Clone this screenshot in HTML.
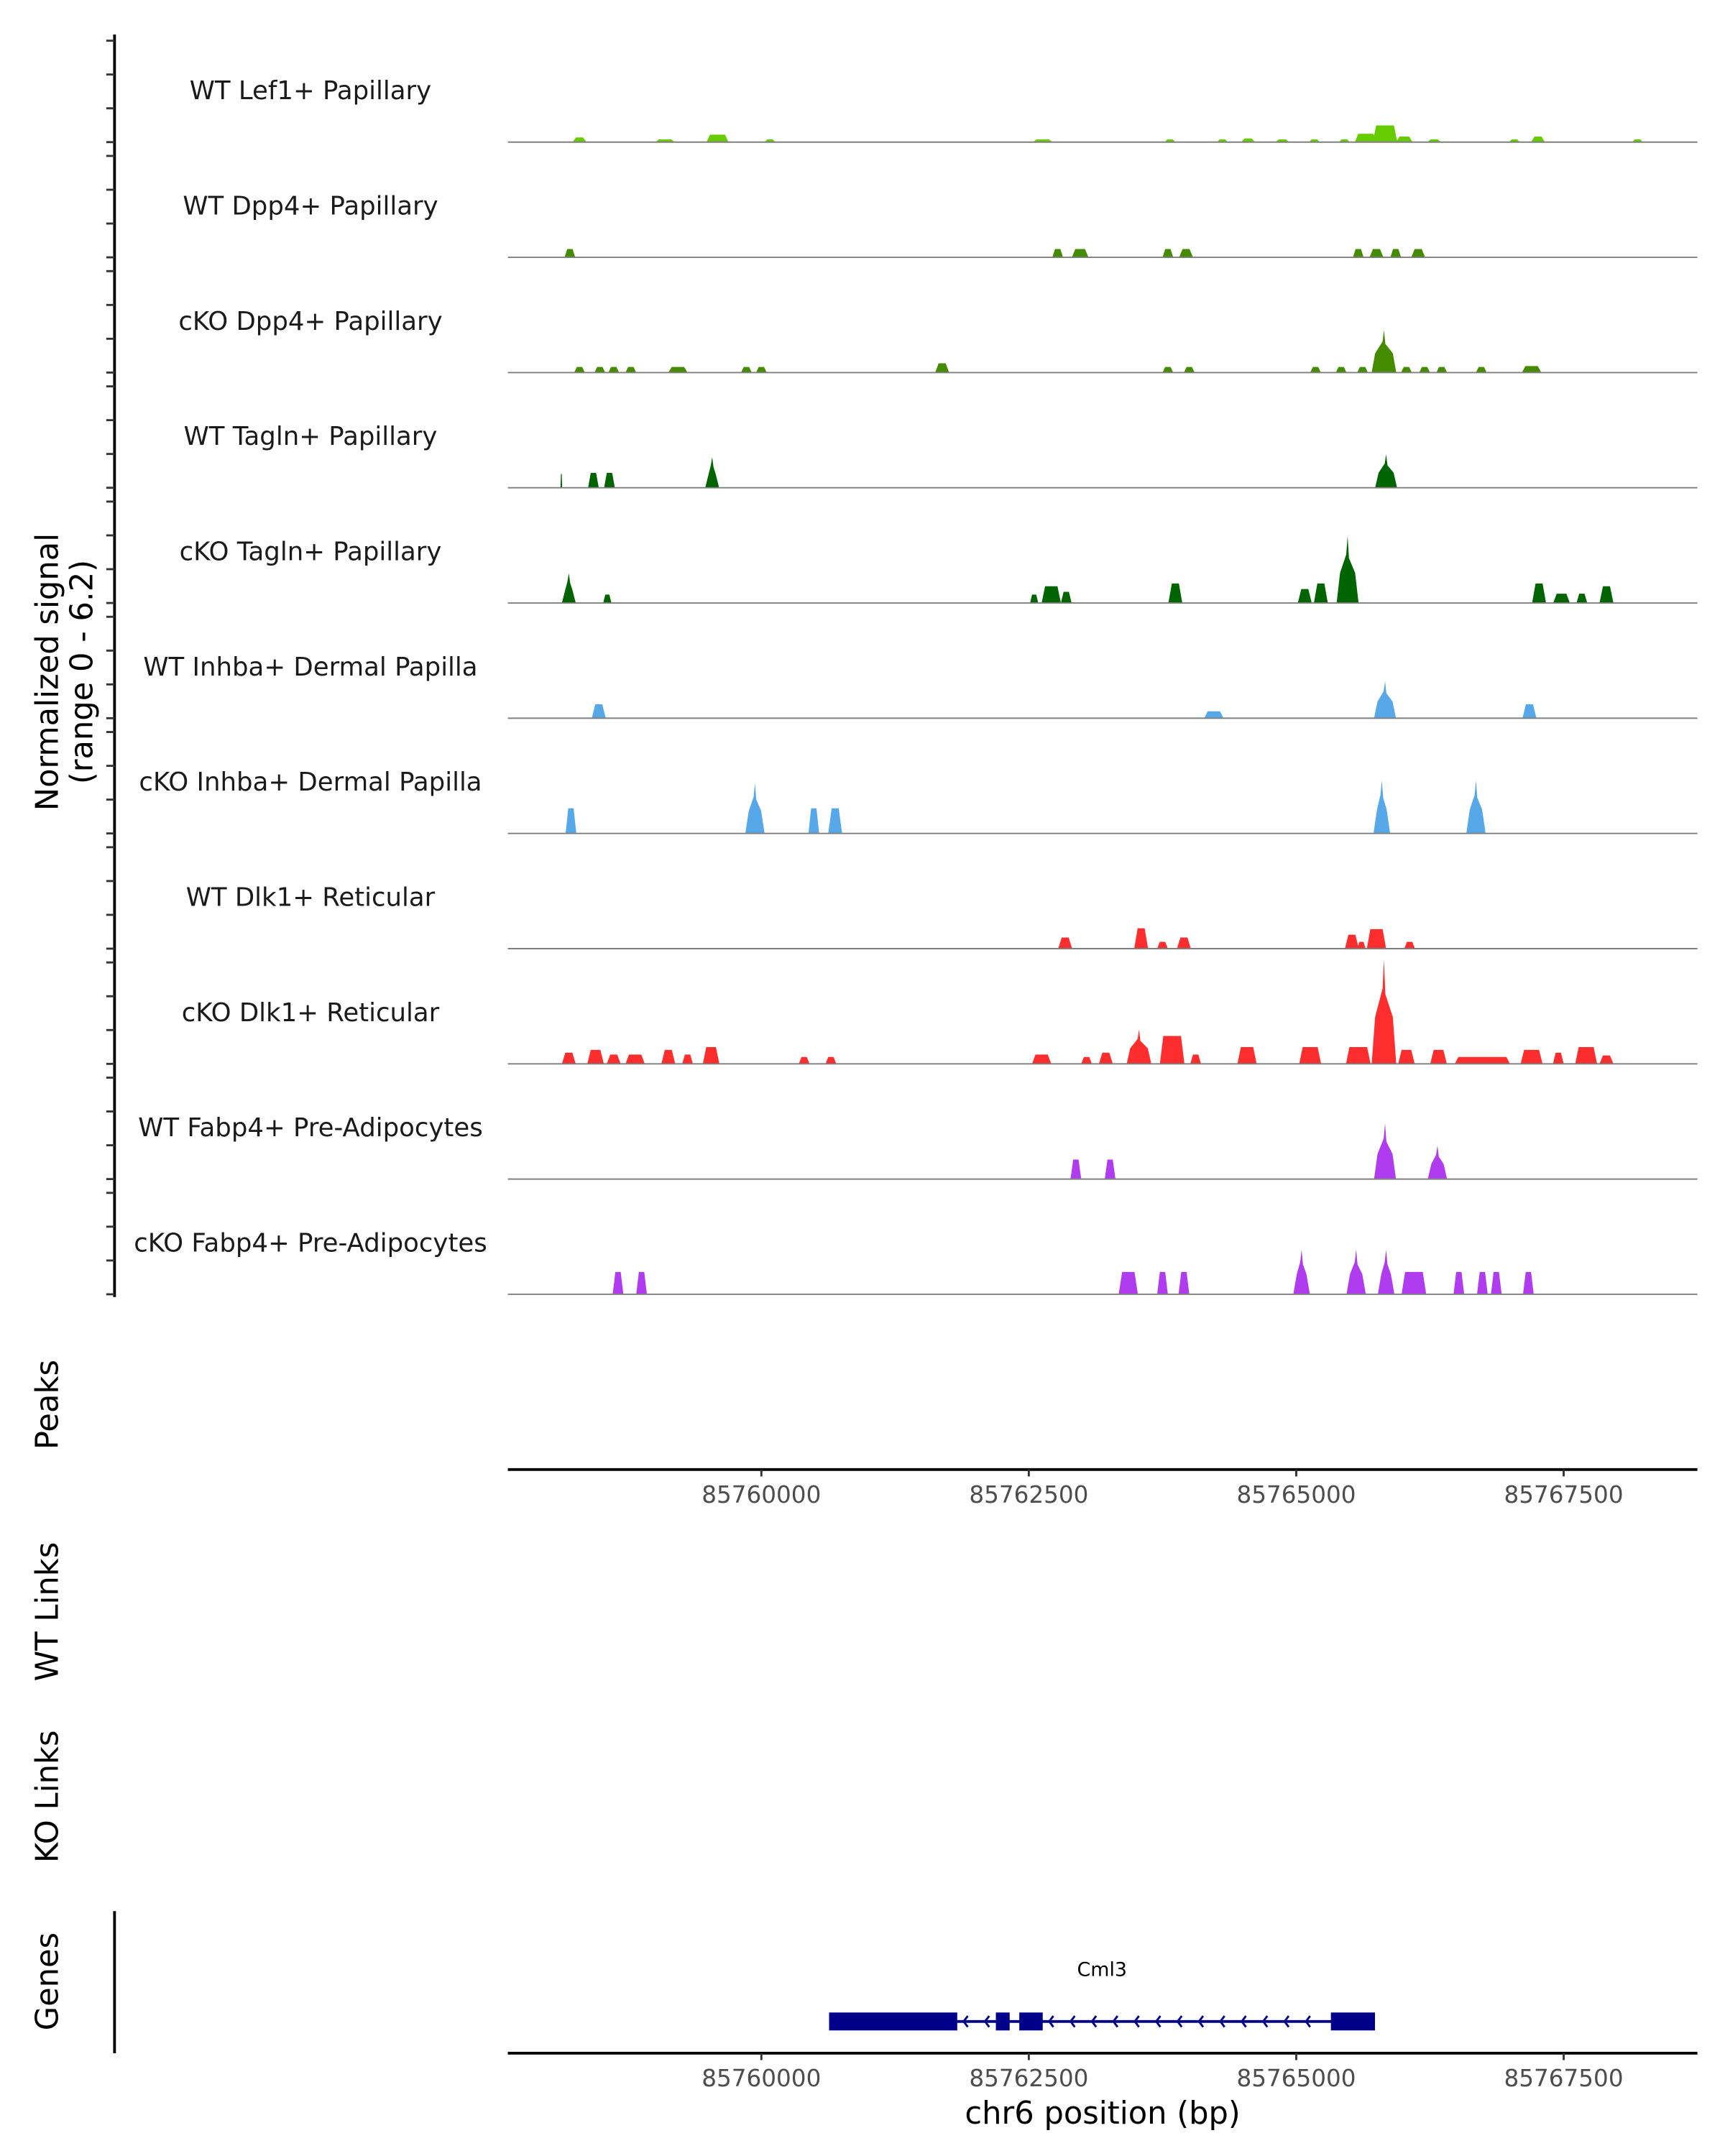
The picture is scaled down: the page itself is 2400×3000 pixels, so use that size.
<!DOCTYPE html>
<html><head><meta charset="utf-8"><title>Coverage plot chr6</title>
<style>html,body{margin:0;padding:0;background:#fff}svg{display:block}text{font-family:"DejaVu Sans","Liberation Sans",sans-serif}</style>
</head><body>
<svg id="chart" width="2400" height="3000" viewBox="0 0 1250 1562.5" xmlns="http://www.w3.org/2000/svg">
<rect width="1250" height="1562.5" fill="#fff"/>
<g id="tracks"></g>
<line x1="83" y1="25" x2="83" y2="940" stroke="#000" stroke-width="2"/>
<g id="yticks"></g>
<text transform="translate(42,487) rotate(-90)" text-anchor="middle" font-size="22.5">Normalized signal</text>
<text transform="translate(67,487) rotate(-90)" text-anchor="middle" font-size="22.5">(range 0 - 6.2)</text>
<text transform="translate(42,1018) rotate(-90)" text-anchor="middle" font-size="22.5">Peaks</text>
<line x1="368" y1="1065" x2="1230" y2="1065" stroke="#000" stroke-width="2"/>
<g id="xticks1"></g>
<text transform="translate(42,1168) rotate(-90)" text-anchor="middle" font-size="22.5">WT Links</text>
<text transform="translate(42,1302) rotate(-90)" text-anchor="middle" font-size="22.5">KO Links</text>
<text transform="translate(42,1436) rotate(-90)" text-anchor="middle" font-size="22.5">Genes</text>
<line x1="83" y1="1385" x2="83" y2="1488" stroke="#000" stroke-width="2"/>
<g id="gene"></g>
<line x1="368" y1="1488" x2="1230" y2="1488" stroke="#000" stroke-width="2"/>
<g id="xticks2"></g>
<text x="799" y="1539" text-anchor="middle" font-size="22.5">chr6 position (bp)</text>
</svg>
<script>
// region and ticks
const regionStart = 85757630;
const regionEnd = 85768750;
const xTickValues = [85760000, 85762500, 85765000, 85767500];
const yMax = 6.2;
const trackNames = ["WT Lef1+ Papillary","WT Dpp4+ Papillary","cKO Dpp4+ Papillary","WT Tagln+ Papillary","cKO Tagln+ Papillary","WT Inhba+ Dermal Papilla","cKO Inhba+ Dermal Papilla","WT Dlk1+ Reticular","cKO Dlk1+ Reticular","WT Fabp4+ Pre-Adipocytes","cKO Fabp4+ Pre-Adipocytes"];
const trackColors = ["#66cc00","#458b00","#458b00","#006400","#006400","#56a8e8","#56a8e8","#ff2e2e","#ff2e2e","#b03cf0","#b03cf0"];
// peak centers (kb), widths (bp), heights (normalized)
const pos1 = [85758.30,85759.10,85759.59,85760.08,85762.63,85763.82,85764.31,85764.55,85764.87,85765.17,85765.45,85765.65,85765.83,85766.01,85766.29,85767.04,85767.26,85768.19];
const wid1 = [130,180,205,100,180,100,100,130,130,100,100,205,230,155,130,100,130,100];
const hgt1 = [0.25,0.15,0.4,0.15,0.15,0.15,0.15,0.2,0.15,0.15,0.15,0.45,0.9,0.3,0.15,0.15,0.3,0.15];
const pos2 = [85758.21,85762.77,85762.98,85763.80,85763.97,85765.58,85765.75,85765.93,85766.14];
const wid2 = [100,100,155,100,130,100,130,100,130];
const hgt2 = [0.45,0.45,0.45,0.45,0.45,0.45,0.45,0.45,0.45];
const pos3 = [85758.30,85758.49,85758.62,85758.78,85759.22,85759.86,85760.00,85761.69,85763.80,85764.00,85765.18,85765.42,85765.62,85765.82,85766.03,85766.20,85766.36,85766.73,85767.20];
const wid3 = [100,100,100,100,180,100,100,130,100,100,100,100,100,230,100,100,100,100,180];
const hgt3 = [0.3,0.3,0.3,0.3,0.3,0.3,0.3,0.5,0.3,0.3,0.3,0.3,0.3,2.3,0.3,0.3,0.3,0.3,0.35];
const pos4 = [85758.13,85758.43,85758.58,85759.54,85765.84];
const wid4 = [15,100,100,130,205];
const hgt4 = [0.75,0.8,0.8,1.65,1.8];
const pos5 = [85758.20,85758.56,85762.55,85762.71,85762.85,85763.87,85765.08,85765.23,85765.48,85767.27,85767.48,85767.67,85767.90];
const wid5 = [130,77,77,180,100,130,130,130,205,130,155,100,130];
const hgt5 = [1.6,0.45,0.45,0.9,0.6,1.05,0.75,1.05,3.6,1.05,0.5,0.5,0.9];
const pos6 = [85758.48,85764.23,85765.83,85767.18];
const wid6 = [130,180,205,130];
const hgt6 = [0.75,0.37,2.0,0.75];
const pos7 = [85758.22,85759.94,85760.49,85760.69,85765.80,85766.68];
const wid7 = [100,180,100,130,155,180];
const hgt7 = [1.35,2.7,1.35,1.35,2.85,2.85];
const pos8 = [85762.84,85763.55,85763.75,85763.95,85765.52,85765.61,85765.75,85766.06];
const wid8 = [130,130,100,130,130,77,180,100];
const hgt8 = [0.6,1.1,0.37,0.6,0.75,0.37,1.05,0.37];
const pos9 = [85758.20,85758.45,85758.62,85758.82,85759.13,85759.31,85759.53,85760.40,85760.65,85762.62,85763.04,85763.22,85763.53,85763.84,85764.06,85764.54,85765.13,85765.58,85765.82,85766.03,85766.33,85766.74,85767.20,85767.45,85767.71,85767.90];
const wid9 = [130,155,130,180,130,100,155,100,100,180,100,130,230,230,100,180,205,230,230,155,155,515,205,100,205,130];
const hgt9 = [0.6,0.75,0.5,0.5,0.75,0.5,0.9,0.37,0.37,0.5,0.37,0.6,1.85,1.5,0.5,0.9,0.9,0.9,5.6,0.75,0.75,0.37,0.75,0.6,0.9,0.45];
const pos10 = [85762.94,85763.26,85765.83,85766.32];
const wid10 = [100,100,205,180];
const hgt10 = [1.05,1.05,3.0,1.8];
const pos11 = [85758.66,85758.88,85763.43,85763.75,85763.95,85765.05,85765.56,85765.84,85766.10,85766.52,85766.74,85766.87,85767.17];
const wid11 = [100,100,180,100,100,155,180,155,230,100,100,100,100];
const hgt11 = [1.2,1.2,1.2,1.2,1.2,2.4,2.4,2.4,1.2,1.2,1.2,1.2,1.2];
const trackPos = [pos1,pos2,pos3,pos4,pos5,pos6,pos7,pos8,pos9,pos10,pos11];
const trackWid = [wid1,wid2,wid3,wid4,wid5,wid6,wid7,wid8,wid9,wid10,wid11];
const trackHgt = [hgt1,hgt2,hgt3,hgt4,hgt5,hgt6,hgt7,hgt8,hgt9,hgt10,hgt11];
// gene model (bp)
const geneName = "Cml3";
const geneStart = 85760633;
const geneEnd = 85765736;
const exonStarts = [85760633,85762192,85762411,85765324];
const exonEnds = [85761831,85762321,85762630,85765736];

const NS = "http://www.w3.org/2000/svg";
const X0 = 368, X1 = 1230, firstBase = 103, trackStep = 83.5;
const pxPerUnit = 83.5 / yMax;
function xScale(bp){ return X0 + (bp - regionStart) / (regionEnd - regionStart) * (X1 - X0); }
function yScale(v, base){ return base - v * pxPerUnit; }
function mk(tag, attrs, parent){ const e = document.createElementNS(NS, tag); for (const k in attrs) e.setAttribute(k, attrs[k]); parent.appendChild(e); return e; }

const tracksG = document.getElementById('tracks');
const ytG = document.getElementById('yticks');
for (let t = 0; t < trackNames.length; t++) {
  const base = firstBase + t * trackStep;
  const g = mk('g', {}, tracksG);
  
  
  const lab = mk('text', {x: 225, y: base - 31, 'text-anchor': 'middle', 'font-size': 18.5, fill: '#1a1a1a'}, g);
  lab.textContent = trackNames[t];
  
  
  const P = trackPos[t], W = trackWid[t], H = trackHgt[t];
  for (let i = 0; i < P.length; i++) {
    const c = P[i] * 1000, xa = xScale(c - W[i] / 2), xb = xScale(c + W[i] / 2), xc = xScale(c);
    const yb = base, yt = yScale(H[i], base);
    const s = Math.min((xb - xa) * 0.25, 2.5);
    let pts;
    if (H[i] > 1.5) {
      const yh = yScale(H[i] * 0.45, base);
      pts = [[xa, yb], [xa + s, yh], [xc - 1, yh - (yh - yt) * 0.5], [xc, yt], [xc + 1, yh - (yh - yt) * 0.4], [xb - s, yh], [xb, yb]];
    } else {
      pts = [[xa, yb], [xa + s, yt], [xb - s, yt], [xb, yb]];
    }
    const p = mk('polygon', {points: pts.map(q => q[0].toFixed(2) + ',' + q[1].toFixed(2)).join(' '), fill: trackColors[t]}, g);
    
    
  }
  const bl = mk('line', {x1: X0, y1: base, x2: X1, y2: base, stroke: '#7f7f7f', 'stroke-width': 1}, g);
  
  
  for (let k = 0; k < 4; k++) {
    const yy = base - k * 24.5;
    const tk = mk('line', {x1: 77, y1: yy, x2: 83, y2: yy, stroke: '#333', 'stroke-width': 1.5}, ytG);
    
    
  }
}

function xTicks(gid, y) {
  const g = document.getElementById(gid);
  xTickValues.forEach(v => {
    const x = xScale(v);
    const l = mk('line', {x1: x, y1: y, x2: x, y2: y + 5, stroke: '#333', 'stroke-width': 1.5}, g);
    
    
    const t = mk('text', {x: x, y: y + 24, 'text-anchor': 'middle', 'font-size': 17, fill: '#4d4d4d'}, g);
    t.textContent = String(v);
    
    
  });
}
xTicks('xticks1', 1065);
xTicks('xticks2', 1488);

// gene
const gG = document.getElementById('gene');
const gy = 1465, gcol = '#00008b';
const gl = mk('line', {x1: xScale(geneStart), y1: gy, x2: xScale(geneEnd), y2: gy, stroke: gcol, 'stroke-width': 2}, gG);


for (let i = 0; i < exonStarts.length; i++) {
  const r = mk('rect', {x: xScale(exonStarts[i]), y: gy - 6.5, width: xScale(exonEnds[i]) - xScale(exonStarts[i]), height: 13, fill: gcol}, gG);
  
  
}
for (let bp = exonEnds[0] + 60; bp < exonStarts[3] - 50; bp += 200) {
  let inside = false;
  for (let i = 0; i < exonStarts.length; i++) if (bp > exonStarts[i] - 50 && bp < exonEnds[i] + 40) inside = true;
  if (inside) continue;
  const x = xScale(bp);
  const a = mk('polyline', {points: (x + 3) + ',' + (gy - 4) + ' ' + x + ',' + gy + ' ' + (x + 3) + ',' + (gy + 4), fill: 'none', stroke: gcol, 'stroke-width': 1.5}, gG);
  
  
}
const gt = mk('text', {x: (xScale(geneStart) + xScale(geneEnd)) / 2, y: 1432, 'text-anchor': 'middle', 'font-size': 14, fill: '#000'}, gG);
gt.textContent = geneName;


</script>
</body></html>
